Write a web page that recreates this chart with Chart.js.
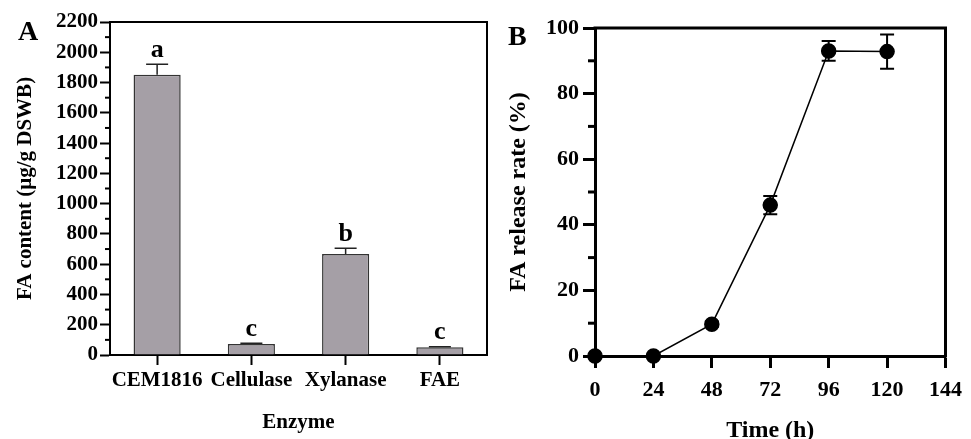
<!DOCTYPE html>
<html>
<head>
<meta charset="utf-8">
<script src="https://cdn.jsdelivr.net/npm/chart.js@4.4.0/dist/chart.umd.min.js"></script>
<style>
body { margin: 0; background: #fff; }
#wrap { position: relative; width: 971px; height: 439px; }
canvas { position: absolute; top: 0; }
</style>
</head>
<body>
<div id="wrap">
<canvas id="chartA" width="490" height="439" style="left:0"></canvas>
<canvas id="chartB" width="481" height="439" style="left:490px"></canvas>
</div>
<script>
// panel A - FA content by enzyme
const enzymes = ['CEM1816', 'Cellulase', 'Xylanase', 'FAE'];
const faContent = [1851, 73, 667, 51];
const faContentErr = [70, 5, 38, 4];
const sigLetters = ['a', 'c', 'b', 'c'];
const minorTicksA = [100, 300, 500, 700, 900, 1100, 1300, 1500, 1700, 1900, 2100];

// panel B - release rate over time
const hours = [0, 24, 48, 72, 96, 120];
const releaseRate = [0, 0, 9.7, 46, 93, 92.8];
const releaseErr = [0, 0, 0.8, 2.8, 3, 5.2];
const minorTicksB = [10, 30, 50, 70, 90];

const serif = "'Liberation Serif', 'Times New Roman', serif";
Chart.defaults.font.family = serif;
Chart.defaults.font.weight = 'bold';
Chart.defaults.color = '#000';

function boxAndTicks(lineW, minors, minorLen, panelLetter, lx, ly) {
    return {
        id: 'boxAndTicks',
        afterDraw(chart) {
            const ctx = chart.ctx;
            const a = chart.chartArea;
            const y = chart.scales.y;
            ctx.save();
            ctx.strokeStyle = '#000';
            ctx.lineWidth = lineW;
            ctx.beginPath();
            ctx.moveTo(a.left - lineW / 2, a.top);
            ctx.lineTo(a.right, a.top);
            ctx.lineTo(a.right, a.bottom + lineW / 2);
            ctx.stroke();
            // minor ticks
            minors.forEach(v => {
                const py = y.getPixelForValue(v);
                ctx.beginPath();
                ctx.moveTo(a.left, py);
                ctx.lineTo(a.left - minorLen, py);
                ctx.stroke();
            });
            ctx.fillStyle = '#000';
            ctx.font = 'bold 28px ' + serif;
            ctx.textAlign = 'left';
            ctx.textBaseline = 'alphabetic';
            ctx.fillText(panelLetter, lx, ly);
            ctx.restore();
        }
    };
}

const barErrors = {
    id: 'barErrors',
    afterDatasetsDraw(chart) {
        const ctx = chart.ctx;
        const xs = chart.scales.x, ys = chart.scales.y;
        ctx.save();
        ctx.strokeStyle = '#222';
        ctx.lineWidth = 1.5;
        ctx.fillStyle = '#000';
        ctx.font = 'bold 26px ' + serif;
        ctx.textAlign = 'center';
        ctx.textBaseline = 'bottom';
        faContent.forEach((v, i) => {
            const px = xs.getPixelForValue(i);
            const yv = ys.getPixelForValue(v);
            const ye = ys.getPixelForValue(v + faContentErr[i]);
            ctx.beginPath();
            ctx.moveTo(px, yv);
            ctx.lineTo(px, ye);
            ctx.moveTo(px - 11, ye);
            ctx.lineTo(px + 11, ye);
            ctx.stroke();
            ctx.fillText(sigLetters[i], px, ye - 1);
        });
        ctx.restore();
    }
};

const pointErrors = {
    id: 'pointErrors',
    beforeDatasetsDraw(chart) {
        const ctx = chart.ctx;
        const xs = chart.scales.x, ys = chart.scales.y;
        ctx.save();
        ctx.strokeStyle = '#000';
        ctx.lineWidth = 2;
        hours.forEach((h, i) => {
            if (!releaseErr[i]) return;
            const px = xs.getPixelForValue(h);
            const y1 = ys.getPixelForValue(releaseRate[i] + releaseErr[i]);
            const y2 = ys.getPixelForValue(releaseRate[i] - releaseErr[i]);
            ctx.beginPath();
            ctx.moveTo(px, y1);
            ctx.lineTo(px, y2);
            ctx.moveTo(px - 7, y1);
            ctx.lineTo(px + 7, y1);
            ctx.moveTo(px - 7, y2);
            ctx.lineTo(px + 7, y2);
            ctx.stroke();
        });
        ctx.restore();
    }
};

new Chart(document.getElementById('chartA'), {
    type: 'bar',
    data: {
        labels: enzymes,
        datasets: [{
            data: faContent,
            backgroundColor: '#a59fa6',
            borderColor: '#333',
            borderWidth: 1.5,
            barPercentage: 0.5,
            categoryPercentage: 1
        }]
    },
    options: {
        responsive: false,
        animation: false,
        layout: { padding: { top: 22, right: 3, left: 0, bottom: 0 } },
        plugins: { legend: { display: false }, tooltip: { enabled: false } },
        scales: {
            x: {
                offset: true,
                grid: { offset: false, drawOnChartArea: false, drawTicks: true, tickLength: 10, tickColor: '#000', tickWidth: 2 },
                border: { display: true, color: '#000', width: 2 },
                ticks: { font: { size: 21 }, color: '#000', padding: 3, maxRotation: 0, autoSkip: false },
                title: { display: true, text: 'Enzyme', font: { size: 21 }, padding: { top: 0, bottom: 4 } },
                afterFit: s => { s.height = 84; }
            },
            y: {
                min: 0,
                max: 2200,
                ticks: { stepSize: 200, font: { size: 21 }, color: '#000', padding: 2, callback: v => String(v) },
                grid: { drawOnChartArea: false, drawTicks: true, tickLength: 10, tickColor: '#000', tickWidth: 2 },
                border: { display: true, color: '#000', width: 2 },
                title: { display: true, text: 'FA content (μg/g DSWB)', font: { size: 21 }, padding: { top: 13, bottom: 0 } },
                afterFit: s => { s.width = 110; }
            }
        }
    },
    plugins: [barErrors, boxAndTicks(2, minorTicksA, 5, 'A', 18, 40)]
});

new Chart(document.getElementById('chartB'), {
    type: 'scatter',
    data: {
        datasets: [{
            data: hours.map((h, i) => ({ x: h, y: releaseRate[i] })),
            showLine: true,
            borderColor: '#000',
            borderWidth: 1.5,
            pointRadius: 7,
            pointBackgroundColor: '#000',
            pointBorderColor: '#000',
            clip: false
        }]
    },
    options: {
        responsive: false,
        animation: false,
        layout: { padding: { top: 28, right: 21, left: 0, bottom: 0 } },
        plugins: { legend: { display: false }, tooltip: { enabled: false } },
        scales: {
            x: {
                type: 'linear',
                min: 0,
                max: 144,
                ticks: { stepSize: 24, font: { size: 22 }, color: '#000', padding: 9, callback: v => String(v) },
                grid: { drawOnChartArea: false, drawTicks: true, tickLength: 12, tickColor: '#000', tickWidth: 3 },
                border: { display: true, color: '#000', width: 3 },
                title: { display: true, text: 'Time (h)', font: { size: 24, lineHeight: 1 }, padding: { top: 0, bottom: -4 } },
                afterFit: s => { s.height = 83; }
            },
            y: {
                min: 0,
                max: 100,
                ticks: { stepSize: 20, font: { size: 22 }, color: '#000', padding: 4, callback: v => String(v) },
                grid: { drawOnChartArea: false, drawTicks: true, tickLength: 12, tickColor: '#000', tickWidth: 3 },
                border: { display: true, color: '#000', width: 3 },
                title: { display: true, text: 'FA release rate (%)', font: { size: 24, lineHeight: 1 }, padding: { top: 17, bottom: 0 } },
                afterFit: s => { s.width = 105; }
            }
        }
    },
    plugins: [pointErrors, boxAndTicks(3, minorTicksB, 7, 'B', 18, 45)]
});
</script>
</body>
</html>
